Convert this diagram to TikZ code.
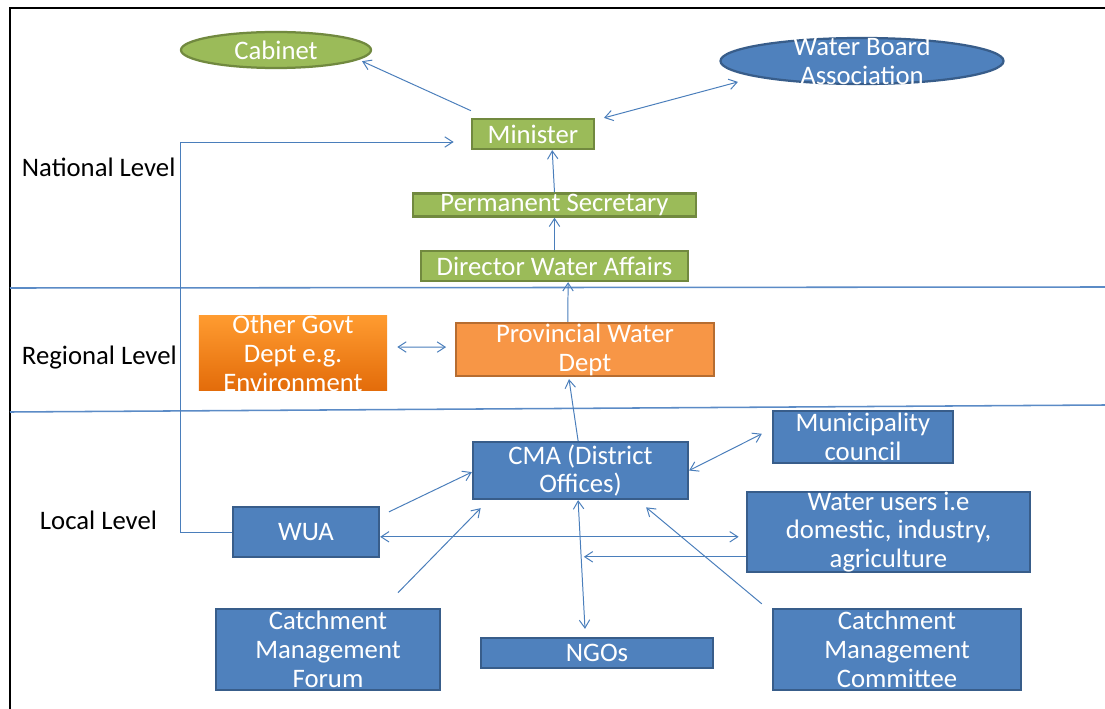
\documentclass[tikz,border=0pt]{standalone}
\usepackage{fontspec}
\setmainfont{Carlito}
\usetikzlibrary{shapes.geometric,arrows.meta}

\definecolor{leafgreen}{HTML}{9BBB59}
\definecolor{greenline}{HTML}{71893F}
\definecolor{boxblue}{HTML}{4F81BD}
\definecolor{blueline}{HTML}{385D8A}
\definecolor{boxorange}{HTML}{F79646}
\definecolor{orangeline}{HTML}{B66D31}
\definecolor{orangetop}{HTML}{FF9B30}
\definecolor{orangebottom}{HTML}{E36C0A}
\definecolor{linkblue}{HTML}{4A7EBB}
\definecolor{levelblue}{HTML}{5B8BC6}

\begin{document}
\begin{tikzpicture}[x=0.025cm, y=-0.025cm,
    font=\fontsize{19}{20.5}\selectfont,
    >={Straight Barb[length=2mm,width=2.6mm]},
    every label/.style={text=white, align=center, inner sep=0pt},
    greenbox/.style={draw=greenline, fill=leafgreen, line width=1.6pt, inner sep=0pt},
    bluebox/.style={draw=blueline, fill=boxblue, line width=1.6pt, inner sep=0pt},
    orangebox/.style={draw=orangeline, fill=boxorange, line width=1.6pt, inner sep=0pt},
    link/.style={draw=linkblue, line width=0.7pt},
    levelline/.style={draw=levelblue, line width=1.1pt}]
  \useasboundingbox (0,0) rectangle (1105,709);

  % Frame
  \draw[line width=1.5pt] (1105,8) -- (10,8) -- (10,709);

  % Level separators
  \draw[levelline] (10,288) -- (1105,287);
  \draw[levelline] (10,412) -- (1105,405);

  % Level names
  \node[anchor=west] (national) at (17,167) {National Level};
  \node[anchor=west] (regional) at (17,358) {Regional Level};
  \node[anchor=west] (local) at (35,520) {Local Level};

  % National level
  \node[greenbox, ellipse, minimum width=4.75cm, minimum height=0.9cm,
        label={center:Cabinet}] (cabinet) at (276,50) {};
  \node[bluebox, ellipse, minimum width=7.075cm, minimum height=1.15cm,
        label={center:Water Board\\Association}] (waterboard) at (862,61) {};
  \node[greenbox, minimum width=3.05cm, minimum height=0.75cm,
        label={center:Minister}] (minister) at (533,134) {};
  \node[greenbox, minimum width=7.075cm, minimum height=0.575cm,
        label={center:Permanent Secretary}] (permsec) at (554.5,205) {};
  \node[greenbox, minimum width=6.675cm, minimum height=0.75cm,
        label={center:Director Water Affairs}] (director) at (554.5,266) {};

  % Regional level
  \node[inner sep=0pt, minimum width=4.7cm, minimum height=1.85cm,
        top color=orangetop, bottom color=orangebottom,
        label={center:Other Govt\\Dept e.g.\\Environment}] (otherdept) at (293,353) {};
  \node[orangebox, minimum width=6.45cm, minimum height=1.325cm,
        label={center:Provincial Water\\Dept}] (provincial) at (585,349.5) {};

  % Local level
  \node[bluebox, minimum width=5.375cm, minimum height=1.425cm,
        label={center:CMA (District\\Offices)}] (cma) at (580.5,470.5) {};
  \node[bluebox, minimum width=4.5cm, minimum height=1.3cm,
        label={center:Municipality\\council}] (municipality) at (863,437) {};
  \node[bluebox, minimum width=7.075cm, minimum height=2cm,
        label={center:Water users i.e\\domestic, industry,\\agriculture}] (waterusers) at (888.5,532) {};
  \node[bluebox, minimum width=3.65cm, minimum height=1.25cm,
        label={center:WUA}] (wua) at (306,532) {};
  \node[bluebox, minimum width=5.6cm, minimum height=2.025cm,
        label={center:Catchment\\Management\\Forum}] (forum) at (328,649.5) {};
  \node[bluebox, minimum width=5.8cm, minimum height=0.75cm,
        label={center:NGOs}] (ngos) at (597,653) {};
  \node[bluebox, minimum width=6.2cm, minimum height=2.025cm,
        label={center:Catchment\\Management\\Committee}] (committee) at (897,649.5) {};

  % Connectors
  \draw[link, ->] ([yshift=0.18cm]minister.north west) -- ([xshift=2.15cm,yshift=-0.28cm]cabinet.center);
  \draw[link, <->] ([xshift=0.22cm]minister.north east) -- ([xshift=-3.1cm,yshift=0.08cm]waterboard.south);
  \draw[link, ->] (permsec.north) -- ([xshift=0.48cm]minister.south);
  \draw[link, ->] (director.north) -- (permsec.south);
  \draw[link, ->] ([xshift=-0.43cm]provincial.north) -- ([xshift=0.34cm]director.south);
  \draw[link, <->] ([xshift=0.25cm,yshift=0.15cm]otherdept.east) -- ([xshift=-0.22cm,yshift=0.06cm]provincial.west);
  \draw[link, ->] ([xshift=-0.06cm]cma.north) -- ([xshift=-0.4cm,yshift=-0.05cm]provincial.south);
  \draw[link, <->] (cma.east) -- ([xshift=-0.25cm,yshift=0.08cm]municipality.west);
  \draw[link, ->] ([xshift=0.22cm,yshift=-0.15cm]wua.north east) -- ([yshift=-0.04cm]cma.west);
  \draw[link, <->] ([yshift=-0.12cm]wua.east) -- ([xshift=-0.18cm,yshift=-0.12cm]waterusers.west);
  \draw[link, ->] ([yshift=-0.62cm]waterusers.west) -- ++(-162,0);
  \draw[link, ->] ([xshift=1.75cm,yshift=0.38cm]forum.north) -- ([xshift=0.22cm,yshift=-0.2cm]cma.south west);
  \draw[link, <->] ([xshift=-0.06cm]cma.south) -- ([xshift=-0.3cm,yshift=0.2cm]ngos.north);
  \draw[link, ->] ([xshift=-0.25cm,yshift=0.1cm]committee.north west) -- ([xshift=1.64cm,yshift=-0.18cm]cma.south);
  \draw[link, ->] (wua.west) -- ++(-51,0) |- ([xshift=-0.43cm,yshift=-0.2cm]minister.west);
\end{tikzpicture}
\end{document}
